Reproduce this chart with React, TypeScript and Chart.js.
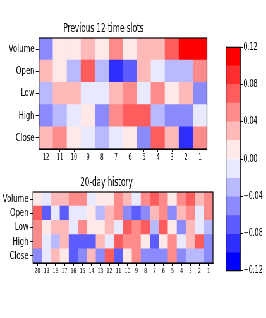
import React, { useEffect, useRef } from 'react';
import { Chart, registerables } from 'chart.js';

Chart.register(...registerables);

const SQUISH = 0.632;
const FULL_W = 421;
const FONT = '"DejaVu Sans", sans-serif';

const rowLabels = ['Volume', 'Open', 'Low', 'High', 'Close'];
const slotLabels = ['12', '11', '10', '9', '8', '7', '6', '5', '4', '3', '2', '1'];
const dayLabels = ['20', '19', '18', '17', '16', '15', '14', '13', '12', '11', '10', '9', '8', '7', '6', '5', '4', '3', '2', '1'];

// Previous 12 time slots
const slotVolume = [-0.05, 0.01, 0.01, 0.03, 0.01, 0.05, 0.01, 0.03, 0.03, 0.07, 0.11, 0.11];
const slotOpen = [0.03, 0.01, -0.03, 0.07, -0.03, -0.09, -0.07, 0.03, -0.01, -0.03, -0.03, 0.05];
const slotLow = [-0.03, 0.03, 0.03, -0.01, -0.01, 0.03, 0.05, -0.01, 0.05, 0.01, 0.03, -0.05];
const slotHigh = [-0.05, -0.03, -0.01, 0.01, -0.05, 0.05, 0.07, 0.07, -0.03, -0.05, -0.05, -0.01];
const slotClose = [0.03, 0.05, 0.01, -0.01, -0.03, -0.01, 0.01, -0.05, 0.07, 0.03, -0.09, 0.05];

// 20-day history
const dayVolume = [0.01, -0.01, 0.03, 0.03, 0.05, 0.05, -0.01, 0.01, 0.01, 0.05, 0.03, -0.01, 0.05, 0.07, 0.05, 0.01, 0.05, 0.07, 0.03, 0.05];
const dayOpen = [0.07, -0.07, -0.01, -0.07, -0.01, -0.01, 0.01, -0.03, 0.03, 0.05, -0.05, -0.07, -0.05, 0.03, 0.05, -0.05, 0.03, 0.05, -0.01, 0.05];
const dayLow = [0.05, 0.01, 0.03, 0.03, -0.01, 0.05, 0.01, 0.01, 0.03, -0.01, 0.07, 0.05, 0.07, -0.03, 0.07, 0.01, -0.05, 0.03, -0.01, -0.03];
const dayHigh = [0.05, -0.01, -0.03, 0.03, -0.07, -0.07, -0.07, 0.03, -0.01, 0.07, 0.05, 0.05, 0.01, -0.07, 0.01, 0.05, -0.01, 0.03, 0.07, -0.05];
const dayClose = [-0.05, -0.01, 0.03, 0.01, -0.07, -0.05, 0.03, -0.05, 0.07, -0.07, 0.01, 0.05, -0.05, -0.05, -0.05, 0.05, -0.05, -0.03, -0.03, -0.05];

const cbarMin = -0.12;
const cbarMax = 0.12;
const cbarStep = 0.02;
const cbarTickStep = 0.04;

function bwr(v: number): string {
  let i = Math.floor((v - cbarMin) / cbarStep + 1e-9);
  if (i < 0) i = 0;
  if (i > 11) i = 11;
  const x = i / 11;
  if (x < 0.5) {
    const c = Math.round(2 * x * 255);
    return `rgb(${c},${c},255)`;
  }
  const c = Math.round(2 * (1 - x) * 255);
  return `rgb(255,${c},${c})`;
}

const framePlugin = {
  id: 'frame',
  afterDatasetsDraw(chart: any) {
    const { ctx, chartArea: a } = chart;
    ctx.save();
    ctx.strokeStyle = '#000';
    ctx.lineWidth = 1.2;
    ctx.strokeRect(a.left, a.top, a.right - a.left, a.bottom - a.top);
    ctx.restore();
  },
};

function heatmapConfig(
  title: string,
  cols: string[],
  rows: number[][],
  o: { titleTop: number; titleBottom: number; yWidth: number; xHeight: number; padRight: number; xFont: number }
): any {
  const bottomUp = rows.slice().reverse();
  const labelsBottomUp = rowLabels.slice().reverse();
  const datasets = bottomUp.map((vals, k) => ({
    label: labelsBottomUp[k],
    data: vals.map(() => 1),
    backgroundColor: vals.map(bwr),
    borderWidth: 0,
    barPercentage: 1,
    categoryPercentage: 1,
  }));
  return {
    type: 'bar',
    data: { labels: cols, datasets },
    plugins: [framePlugin],
    options: {
      animation: false,
      responsive: false,
      events: [],
      layout: { padding: { left: 0, right: o.padRight, top: 0, bottom: 0 } },
      plugins: {
        legend: { display: false },
        tooltip: { enabled: false },
        title: {
          display: true,
          text: title,
          color: '#000',
          font: { family: FONT, size: 11.5, weight: 'normal' },
          padding: { top: o.titleTop, bottom: o.titleBottom },
        },
      },
      scales: {
        x: {
          type: 'category',
          stacked: true,
          grid: { display: true, offset: false, drawOnChartArea: false, drawTicks: true, tickLength: 3, color: '#000' },
          border: { display: true, color: '#000' },
          ticks: { color: '#000', font: { family: FONT, size: o.xFont }, padding: 1, maxRotation: 0, autoSkip: false },
          afterFit: (s: any) => {
            s.height = o.xHeight;
          },
        },
        y: {
          type: 'linear',
          stacked: true,
          min: 0,
          max: rowLabels.length,
          grid: { display: true, drawOnChartArea: false, drawTicks: true, tickLength: 5, color: '#000' },
          border: { display: true, color: '#000' },
          afterBuildTicks: (s: any) => {
            s.ticks = labelsBottomUp.map((_, k) => ({ value: k + 0.5 }));
          },
          ticks: {
            color: '#000',
            font: { family: FONT, size: 11 },
            padding: 2,
            callback: (v: number) => labelsBottomUp[Math.floor(v)],
          },
          afterFit: (s: any) => {
            s.width = o.yWidth;
          },
        },
      },
    },
  };
}

function colorbarConfig(): any {
  const n = Math.round((cbarMax - cbarMin) / cbarStep);
  const half = n / 2;
  const datasets: any[] = [];
  for (let k = 0; k < half; k++) {
    const lo = k * cbarStep;
    datasets.push({ data: [cbarStep], backgroundColor: bwr(lo + cbarStep / 2), borderWidth: 0, barPercentage: 1, categoryPercentage: 1 });
    datasets.push({ data: [-cbarStep], backgroundColor: bwr(-lo - cbarStep / 2), borderWidth: 0, barPercentage: 1, categoryPercentage: 1 });
  }
  return {
    type: 'bar',
    data: { labels: [''], datasets },
    plugins: [framePlugin],
    options: {
      animation: false,
      responsive: false,
      events: [],
      layout: { padding: { left: 17.6, right: 0, top: 47.3, bottom: 47.3 } },
      plugins: { legend: { display: false }, tooltip: { enabled: false }, title: { display: false } },
      scales: {
        x: { type: 'category', stacked: true, display: false },
        y: {
          type: 'linear',
          position: 'right',
          stacked: true,
          min: cbarMin,
          max: cbarMax,
          grid: { display: true, drawOnChartArea: false, drawTicks: true, tickLength: 4, color: '#000' },
          border: { display: false },
          ticks: {
            stepSize: cbarTickStep,
            color: '#000',
            font: { family: FONT, size: 10 },
            padding: 1,
            callback: (v: number) => {
              if (Math.abs(v) < 1e-9) return '0.00';
              return (v < 0 ? '\u2212' : '') + Math.abs(v).toFixed(2);
            },
          },
          afterFit: (s: any) => {
            s.width = 40.8;
          },
        },
      },
    },
  };
}

export default function App() {
  const topRef = useRef<HTMLCanvasElement>(null);
  const botRef = useRef<HTMLCanvasElement>(null);
  const barRef = useRef<HTMLCanvasElement>(null);

  useEffect(() => {
    const charts: Chart[] = [];
    charts.push(
      new Chart(
        topRef.current as HTMLCanvasElement,
        heatmapConfig('Previous 12 time slots', slotLabels, [slotVolume, slotOpen, slotLow, slotHigh, slotClose], {
          titleTop: 22.2,
          titleBottom: 2.0,
          yWidth: 61.7,
          xHeight: 21,
          padRight: FULL_W - 327.5,
          xFont: 8,
        })
      )
    );
    charts.push(
      new Chart(
        botRef.current as HTMLCanvasElement,
        heatmapConfig('20-day history', dayLabels, [dayVolume, dayOpen, dayLow, dayHigh, dayClose], {
          titleTop: 5.9,
          titleBottom: 2.3,
          yWidth: 52.2,
          xHeight: 27,
          padRight: FULL_W - 337,
          xFont: 7,
        })
      )
    );
    charts.push(new Chart(barRef.current as HTMLCanvasElement, colorbarConfig()));
    return () => charts.forEach((c) => c.destroy());
  }, []);

  return (
    <div
      style={{
        position: 'absolute',
        left: 0,
        top: 0,
        width: FULL_W + 'px',
        height: '318px',
        transform: `scaleX(${SQUISH})`,
        transformOrigin: '0 0',
        background: '#fff',
      }}
    >
      <canvas ref={topRef} width={FULL_W} height={170} style={{ position: 'absolute', left: 0, top: 0, width: FULL_W + 'px', height: '170px' }} />
      <canvas ref={botRef} width={FULL_W} height={120} style={{ position: 'absolute', left: 0, top: '170px', width: FULL_W + 'px', height: '120px' }} />
      <canvas ref={barRef} width={81} height={318} style={{ position: 'absolute', left: '340px', top: 0, width: '81px', height: '318px' }} />
    </div>
  );
}
